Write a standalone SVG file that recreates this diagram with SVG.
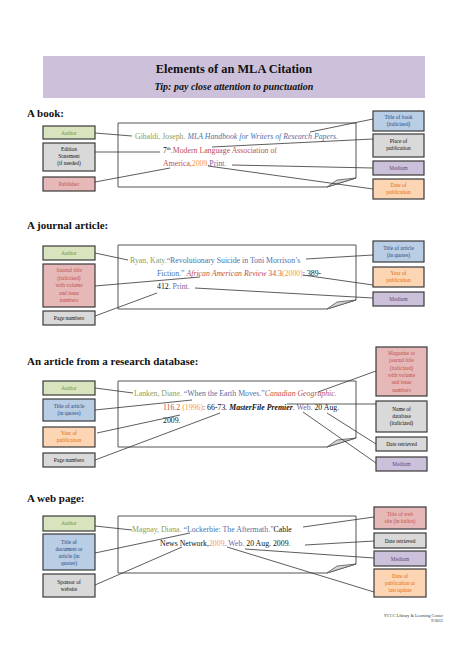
<svg xmlns="http://www.w3.org/2000/svg" width="474" height="669" viewBox="0 0 474 669">
<style>
.bg{fill:#fff}
.hdr{fill:#ccc0da}
.t1{font-family:"Liberation Serif",serif;font-weight:bold;font-size:12.4px;fill:#111;text-anchor:middle}
.t2{font-family:"Liberation Serif",serif;font-weight:bold;font-style:italic;font-size:10px;fill:#111;text-anchor:middle}
.h{font-family:"Liberation Serif",serif;font-weight:bold;font-size:11px;fill:#111}
.page{fill:#fff;stroke:#555;stroke-width:1}
.flap{fill:#d4d4d4;stroke:#555;stroke-width:0.8}
.cit{font-family:"Liberation Serif",serif;font-size:7.8px;fill:#111}
.lb rect{stroke:#3a3a3a;stroke-width:1.2}
.lb text{font-family:"Liberation Serif",serif;font-size:5.4px;text-anchor:middle}
.gr rect{fill:#d7e4bd}.gr text{fill:#76923c}
.bl rect{fill:#b9cde5}.bl text{fill:#1f497d}
.pk rect{fill:#e6b9b8}.pk text{fill:#c0504d}
.gy rect{fill:#d9d9d9}.gy text{fill:#111}
.pu rect{fill:#ccc1da}.pu text{fill:#604a7b}
.or rect{fill:#fcd5b5}.or text{fill:#e46c0a}
.cg{fill:#8aa05a}.cb{fill:#4f6fa8}.cr{fill:#c0504d}.co{fill:#f79646}.cp{fill:#7a64a2}.ck{fill:#111}
.it{font-style:italic}
#connectors line{stroke:#333;stroke-width:0.8}
.foot{font-family:"Liberation Serif",serif;font-size:4.3px;fill:#333;text-anchor:end}
</style>
<rect class="bg" width="474" height="669"/>

<g id="header">
<rect class="hdr" x="43" y="56" width="382" height="42"/>
<text class="t1" x="234" y="73">Elements of an MLA Citation</text>
<text class="t2" x="234" y="90">Tip: pay close attention to punctuation</text>
</g>

<!-- BOOK -->
<text class="h" x="27" y="117">A book:</text>
<g id="book-citation">
<path class="page" d="M118,123 H356 V178 L327,187 H118 Z"/>
<path class="flap" d="M327,187 L337,180 L356,178 Z"/>
<text class="cit" x="135" y="139"><tspan class="cg">Gibaldi, Joseph. </tspan><tspan class="cb it">MLA Handbook for Writers of Research Papers.</tspan></text>
<text class="cit" x="163" y="153"><tspan class="ck">7</tspan><tspan class="ck" font-size="5" dy="-3">th</tspan><tspan class="cr" dy="3">.Modern Language Association of</tspan></text>
<text class="cit" x="163" y="166"><tspan class="cr">America,</tspan><tspan class="co">2009</tspan><tspan class="ck">.</tspan><tspan class="cp">Print.</tspan></text>
</g>
<g id="book-author" class="lb gr"><rect x="43" y="126" width="52" height="13"/><text x="69" y="134.5">Author</text></g>
<g id="book-edition" class="lb gy"><rect x="43" y="143" width="52" height="28"/><text x="69" y="151">Edition</text><text x="69" y="158">Statement</text><text x="69" y="165">(if needed)</text></g>
<g id="book-publisher" class="lb pk"><rect x="43" y="177" width="52" height="14"/><text x="69" y="186">Publisher</text></g>
<g id="book-title" class="lb bl"><rect x="373" y="111" width="51" height="20"/><text x="398.5" y="119">Title of book</text><text x="398.5" y="126">(italicized)</text></g>
<g id="book-place" class="lb gy"><rect x="373" y="134" width="51" height="23"/><text x="398.5" y="143">Place of</text><text x="398.5" y="150">publication</text></g>
<g id="book-medium" class="lb pu"><rect x="373" y="161" width="51" height="14"/><text x="398.5" y="170">Medium</text></g>
<g id="book-date" class="lb or"><rect x="373" y="179" width="51" height="20"/><text x="398.5" y="187">Date of</text><text x="398.5" y="194">publication</text></g>

<!-- JOURNAL -->
<text class="h" x="27" y="229">A journal article:</text>
<g id="journal-citation">
<path class="page" d="M118,245 H356 V300 L327,309 H118 Z"/>
<path class="flap" d="M327,309 L337,302 L356,300 Z"/>
<text class="cit" x="130" y="263"><tspan class="cg">Ryan, Katy.</tspan><tspan class="cb">“Revolutionary Suicide in Toni Morrison’s</tspan></text>
<text class="cit" x="157" y="276"><tspan class="cb">Fiction.” </tspan><tspan class="cr it">African American Review</tspan><tspan class="cr"> 34.3</tspan><tspan class="co">(2000)</tspan><tspan class="ck">: 389-</tspan></text>
<text class="cit" x="157" y="289"><tspan class="ck">412. </tspan><tspan class="cp">Print.</tspan></text>
</g>
<g id="journal-author" class="lb gr"><rect x="43" y="246" width="52" height="14"/><text x="69" y="255">Author</text></g>
<g id="journal-jtitle" class="lb pk"><rect x="43" y="264" width="52" height="43"/><text x="69" y="272">Journal title</text><text x="69" y="279.5">(italicized)</text><text x="69" y="287">with volume</text><text x="69" y="294.5">and issue</text><text x="69" y="302">numbers</text></g>
<g id="journal-pages" class="lb gy"><rect x="43" y="311" width="52" height="14"/><text x="69" y="320">Page numbers</text></g>
<g id="journal-atitle" class="lb bl"><rect x="373" y="241" width="51" height="21"/><text x="398.5" y="249.5">Title of article</text><text x="398.5" y="256.5">(in quotes)</text></g>
<g id="journal-year" class="lb or"><rect x="373" y="267" width="51" height="20"/><text x="398.5" y="275">Year of</text><text x="398.5" y="282">publication</text></g>
<g id="journal-medium" class="lb pu"><rect x="373" y="292" width="51" height="14"/><text x="398.5" y="301">Medium</text></g>

<!-- DATABASE -->
<text class="h" x="27" y="365">An article from a research database:</text>
<g id="db-citation">
<path class="page" d="M118,381 H356 V438 L327,447 H118 Z"/>
<path class="flap" d="M327,447 L337,440 L356,438 Z"/>
<text class="cit" x="134" y="396"><tspan class="cg">Lanken, Diane. </tspan><tspan class="cb">“When the Earth Moves.”</tspan><tspan class="cr it">Canadian Geographic.</tspan></text>
<text class="cit" x="163" y="410"><tspan class="cr">116.2 </tspan><tspan class="co">(1996)</tspan><tspan class="ck">: 66-73. </tspan><tspan class="ck it" font-weight="bold">MasterFile Premier</tspan><tspan class="ck">. </tspan><tspan class="cp">Web. </tspan><tspan class="ck">20 Aug.</tspan></text>
<text class="cit" x="163" y="423">2009.</text>
</g>
<g id="db-author" class="lb gr"><rect x="43" y="381" width="52" height="14"/><text x="69" y="390">Author</text></g>
<g id="db-atitle" class="lb bl"><rect x="43" y="399" width="52" height="22"/><text x="69" y="408">Title of article</text><text x="69" y="415">(in quotes)</text></g>
<g id="db-year" class="lb or"><rect x="43" y="427" width="52" height="20"/><text x="69" y="435">Year of</text><text x="69" y="442">publication</text></g>
<g id="db-pages" class="lb gy"><rect x="43" y="453" width="52" height="14"/><text x="69" y="462">Page numbers</text></g>
<g id="db-mag" class="lb pk"><rect x="376" y="347" width="51" height="49"/><text x="401.5" y="355">Magazine or</text><text x="401.5" y="362.3">journal title</text><text x="401.5" y="369.6">(italicized)</text><text x="401.5" y="377">with volume</text><text x="401.5" y="384.3">and issue</text><text x="401.5" y="391.6">numbers</text></g>
<g id="db-dbname" class="lb gy"><rect x="376" y="401" width="51" height="31"/><text x="401.5" y="411">Name of</text><text x="401.5" y="418">database</text><text x="401.5" y="425">(italicized)</text></g>
<g id="db-retrieved" class="lb gy"><rect x="376" y="437" width="51" height="14"/><text x="401.5" y="446">Date retrieved</text></g>
<g id="db-medium" class="lb pu"><rect x="376" y="457" width="51" height="14"/><text x="401.5" y="466">Medium</text></g>

<!-- WEB -->
<text class="h" x="27" y="502">A web page:</text>
<g id="web-citation">
<path class="page" d="M118,516 H356 V564 L327,573 H118 Z"/>
<path class="flap" d="M327,573 L337,566 L356,564 Z"/>
<text class="cit" x="132" y="532"><tspan class="cg">Magnay, Diana. </tspan><tspan class="cb">“Lockerbie: The Aftermath.”</tspan><tspan class="ck">Cable</tspan></text>
<text class="cit" x="160" y="546"><tspan class="ck">News Network,</tspan><tspan class="co">2009</tspan><tspan class="ck">. </tspan><tspan class="cp">Web.</tspan><tspan class="ck"> 20 Aug. 2009.</tspan></text>
</g>
<g id="web-author" class="lb gr"><rect x="43" y="516" width="52" height="15"/><text x="69" y="525">Author</text></g>
<g id="web-dtitle" class="lb bl"><rect x="43" y="534" width="52" height="36"/><text x="69" y="544">Title of</text><text x="69" y="551">document or</text><text x="69" y="558">article (in</text><text x="69" y="565">quotes)</text></g>
<g id="web-sponsor" class="lb gy"><rect x="43" y="574" width="52" height="23"/><text x="69" y="584">Sponsor of</text><text x="69" y="591">website</text></g>
<g id="web-site" class="lb pk"><rect x="374" y="507" width="52" height="22"/><text x="400" y="516">Title of web</text><text x="400" y="523">site (in italics)</text></g>
<g id="web-retrieved" class="lb gy"><rect x="374" y="533" width="52" height="15"/><text x="400" y="542.5">Date retrieved</text></g>
<g id="web-medium" class="lb pu"><rect x="374" y="551" width="52" height="15"/><text x="400" y="560.5">Medium</text></g>
<g id="web-date" class="lb or"><rect x="374" y="569" width="52" height="28"/><text x="400" y="578">Date of</text><text x="400" y="585">publication or</text><text x="400" y="592">last update</text></g>

<g id="connectors">
<line x1="95" y1="133" x2="132" y2="136"/>
<line x1="95" y1="152" x2="160" y2="152"/>
<line x1="95" y1="182" x2="170" y2="168"/>
<line x1="373" y1="119" x2="310" y2="132"/>
<line x1="373" y1="139" x2="212" y2="147"/>
<line x1="373" y1="168" x2="232" y2="165"/>
<line x1="373" y1="189" x2="208" y2="166"/>

<line x1="95" y1="253" x2="128" y2="260"/>
<line x1="95" y1="286" x2="200" y2="277"/>
<line x1="95" y1="316" x2="157" y2="293"/>
<line x1="373" y1="255" x2="306" y2="259"/>
<line x1="373" y1="285" x2="303" y2="275"/>
<line x1="373" y1="298" x2="195" y2="288"/>

<line x1="95" y1="388" x2="133" y2="393"/>
<line x1="95" y1="410" x2="192" y2="400"/>
<line x1="97" y1="433" x2="180" y2="415"/>
<line x1="95" y1="460" x2="220" y2="413"/>
<line x1="376" y1="371" x2="318" y2="392"/>
<line x1="376" y1="404" x2="287" y2="404"/>
<line x1="376" y1="444" x2="327" y2="413"/>
<line x1="376" y1="463" x2="303" y2="412"/>

<line x1="95" y1="526" x2="132" y2="530"/>
<line x1="95" y1="553" x2="190" y2="533"/>
<line x1="95" y1="585" x2="182" y2="547"/>
<line x1="374" y1="517" x2="303" y2="527"/>
<line x1="374" y1="541" x2="305" y2="545"/>
<line x1="374" y1="558" x2="245" y2="549"/>
<line x1="374" y1="592" x2="227" y2="547"/>
</g>

<text class="foot" x="443" y="617">YCCC Library &amp; Learning Center</text>
<text class="foot" x="443" y="622">9/2012</text>
</svg>
